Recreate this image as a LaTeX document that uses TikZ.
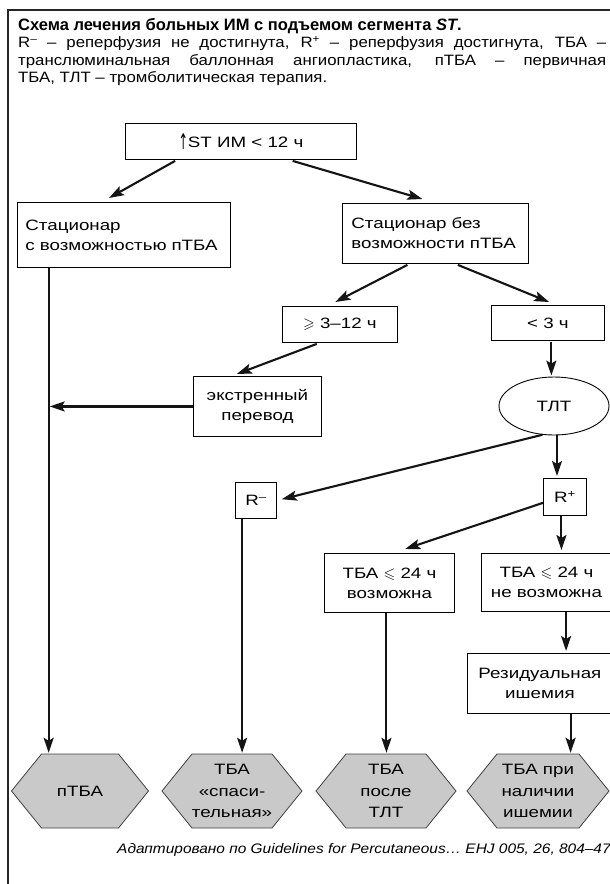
\documentclass[tikz,border=0pt]{standalone}
\usepackage{fontspec}
\usepackage{amssymb}
\usepackage{graphicx}
\setmainfont{Liberation Sans}[FakeStretch=1.25]
\newfontfamily\capfont{Liberation Sans}[FakeStretch=1.12]
\newfontfamily\titlefont{Liberation Sans}[FakeStretch=1.0]
\newfontfamily\arrowfont{DejaVu Sans}
\usetikzlibrary{arrows.meta,calc,shapes.geometric}
\newcommand\hexnode[4]{%
  \path[hexfill] ({#2-#3/2},791) -- ({#2-#3/2+30},754) -- ({#2+#3/2-30},754) --
    ({#2+#3/2},791) -- ({#2+#3/2-30},828) -- ({#2-#3/2+30},828) -- cycle;
  \node[hextext, minimum width=#3pt, minimum height=74pt] (#1) at (#2,791) {#4};}
\begin{document}
\begin{tikzpicture}[x=1pt,y=-1pt,
  box/.style={draw=black, line width=0.9pt, fill=white, inner sep=0pt, align=center,
    font=\fontsize{15}{20}\selectfont},
  lbx/.style={box, align=left},
  arr/.style={draw=black!92, line width=2.1pt,
    -{Stealth[length=15pt,width=10pt,inset=3pt]}},
  hexfill/.style={fill=black!21, draw=black!75, line width=0.8pt},
  hextext/.style={inner sep=0pt, align=center, font=\fontsize{15}{21.5}\selectfont},
  capline/.style={anchor=base west, inner sep=0pt, font=\capfont\fontsize{15}{17.5}\selectfont},
]
\useasboundingbox (0,0) rectangle (610,884);
\fill[white] (0,0) rectangle (610,884);
% frame
\draw[line width=2pt, black!85] (8,900) -- (8,9.5) -- (620,9.5);
% caption
\node[capline, font=\titlefont\bfseries\fontsize{16.5}{18}\selectfont] (title) at (18,30)
  {Схема лечения больных ИМ с подъемом сегмента \textit{ST}.};
\node[capline] (c1) at (18,47.5) {\makebox[588pt][s]{R\textsuperscript{–} – реперфузия не достигнута, R\textsuperscript{+} – реперфузия достигнута, ТБА –}};
\node[capline] (c2) at (18,65) {\makebox[588pt][s]{транслюминальная баллонная ангиопластика, пТБА – первичная}};
\node[capline] (c3) at (18,82.5) {ТБА, ТЛТ – тромболитическая терапия.};
% nodes
\node[box, anchor=north west, minimum width=231pt, minimum height=36pt] (top) at (125,123)
  {{\arrowfont\raisebox{-1.5pt}{\scalebox{0.75}[1.45]{↑}}}ST ИМ < 12 ч};
\node[lbx, anchor=north west, text width=197pt, inner xsep=8pt, minimum height=65pt] (lbox) at (17,202)
  {\mbox{Стационар}\\\mbox{с возможностью пТБА}};
\node[lbx, anchor=north west, text width=168pt, inner xsep=9pt, minimum height=60pt] (rbox) at (342,203)
  {\mbox{Стационар без}\\\mbox{возможности пТБА}};
\node[box, anchor=north west, minimum width=115pt, minimum height=36pt] (b312) at (282,306)
  {$\geqslant$ 3–12 ч};
\node[box, anchor=north west, minimum width=113pt, minimum height=35pt] (b3) at (491,305)
  {< 3 ч};
\node[box, anchor=north west, minimum width=128pt, minimum height=60pt] (ext) at (193,376)
  {экстренный\\перевод};
\node[box, ellipse, minimum width=110pt, minimum height=58pt] (tlt) at (554,406) {ТЛТ};
\node[box, anchor=north west, minimum width=41pt, minimum height=36pt] (rminus) at (235,482)
  {R\textsuperscript{–}};
\node[box, anchor=north west, minimum width=43pt, minimum height=37pt] (rplus) at (543,478)
  {R\textsuperscript{+}};
\node[box, anchor=north west, minimum width=130pt, minimum height=59pt] (t24a) at (324,553)
  {ТБА $\leqslant$ 24 ч\\возможна};
\node[box, anchor=north west, minimum width=130pt, minimum height=58pt] (t24b) at (481,553)
  {ТБА $\leqslant$ 24 ч\\не возможна};
\node[box, anchor=north west, minimum width=145pt, minimum height=60pt] (resid) at (467,653)
  {Резидуальная\\ишемия};
% hexagons
\hexnode{h1}{80}{137}{пТБА}
\hexnode{h2}{232}{140}{ТБА\\«спаси-\\тельная»}
\hexnode{h3}{386}{140}{ТБА\\после\\ТЛТ}
\hexnode{h4}{538}{142}{ТБА при\\наличии\\ишемии}
% connectors
\coordinate (lv) at ($(lbox.south west)!0.148!(lbox.south east)$);
\draw[arr, shorten >=1pt] (lv) -- (lv |- h1.north);
\draw[arr] ($(top.south west)!0.216!(top.south east)+(0,1)$) -- ($(lbox.north west)!0.43!(lbox.north east)+(0,-4)$);
\draw[arr] ($(top.south west)!0.723!(top.south east)+(0,1)$) -- ($(rbox.north west)!0.43!(rbox.north east)+(0,-4)$);
\draw[arr] ($(rbox.south west)!0.35!(rbox.south east)+(0,1)$) -- ($(b312.north west)!0.46!(b312.north east)+(0,-4)$);
\draw[arr] ($(rbox.south west)!0.62!(rbox.south east)+(0,1)$) -- ($(b3.north west)!0.51!(b3.north east)+(0,-3)$);
\draw[arr] ($(b312.south west)!0.30!(b312.south east)+(0,1)$) -- ($(ext.north west)!0.34!(ext.north east)+(0,-2)$);
\draw[arr, shorten >=1pt] (ext.west) -- (ext.west -| lv);
\coordinate (a7) at ($(b3.south west)!0.53!(b3.south east)+(0,1)$);
\draw[arr, shorten >=1pt] (a7) -- (a7 |- tlt.north);
\coordinate (a8) at ($(tlt.south)+(3,0)$);
\draw[arr, shorten >=2pt] (a8) -- (a8 |- rplus.north);
\draw[arr, shorten >=5pt] (tlt.-112) -- (rminus.east);
\coordinate (a10) at ($(rminus.south west)!0.17!(rminus.south east)$);
\draw[arr, shorten >=1pt] (a10) -- (a10 |- h2.north);
\draw[arr] (rplus.195) -- ($(t24a.north west)!0.62!(t24a.north east)+(0,-4)$);
\coordinate (a12) at ($(rplus.south west)!0.42!(rplus.south east)$);
\draw[arr, shorten >=3pt] (a12) -- (a12 |- t24b.north);
\coordinate (a13) at ($(t24a.south west)!0.477!(t24a.south east)$);
\draw[arr, shorten >=1pt] (a13) -- (a13 |- h3.north);
\coordinate (a14) at ($(t24b.south west)!0.65!(t24b.south east)$);
\draw[arr, shorten >=2pt] (a14) -- (a14 |- resid.north);
\coordinate (a15) at ($(resid.south west)!0.71!(resid.south east)$);
\draw[arr, shorten >=1pt] (a15) -- (a15 |- h4.north);
% footer
\node[anchor=base west, inner sep=0pt, font=\capfont\itshape\fontsize{13.8}{15}\selectfont] (foot) at (117,853)
  {Адаптировано по Guidelines for Percutaneous… EHJ 005, 26, 804–47};
\end{tikzpicture}
\end{document}
